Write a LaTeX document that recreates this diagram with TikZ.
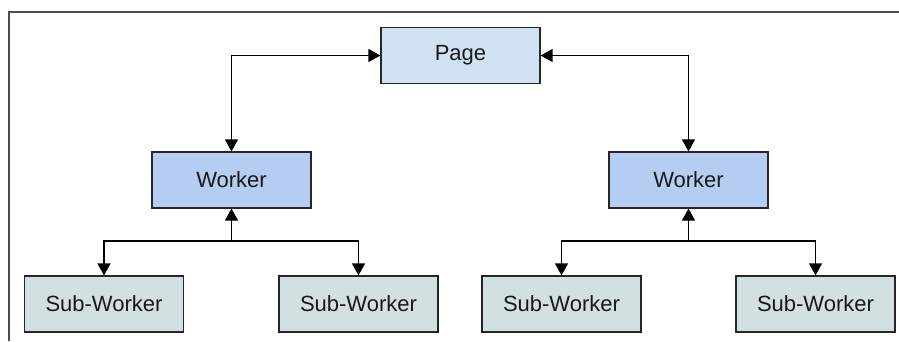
\documentclass[tikz,border=0pt]{standalone}
\usepackage{fontspec}
\setmainfont{Liberation Sans}
\usetikzlibrary{arrows.meta}
\definecolor{pagefill}{HTML}{D0E1F2}
\definecolor{workfill}{HTML}{B6CDF3}
\definecolor{subfill}{HTML}{D2E0E1}
\begin{document}
\begin{tikzpicture}[x=1pt,y=-1pt,
    box/.style={draw=black!85,line width=1.2pt,fill=#1,minimum width=159pt,minimum height=56pt,
      inner sep=0pt,text=black!90,font=\fontsize{22}{26}\selectfont},
    freccia/.style={line width=1.3pt,-{Triangle[length=12pt,width=13pt]}},
    doppia/.style={line width=1.3pt,{Triangle[length=12pt,width=13pt]}-{Triangle[length=12pt,width=13pt]}}]
    \useasboundingbox (0,0) rectangle (899,341);
    % cornice aperta in basso e a destra
    \draw[line width=2pt,black!70] (9,341) -- (9,12) -- (899,12);

    \node[box=pagefill] (page) at (460.5,55.5) {Page};
    \node[box=workfill] (wl) at (231.5,180) {Worker};
    \node[box=workfill] (wr) at (688.5,180) {Worker};
    % quattro sub-worker in fila
    \foreach \n/\X in {s1/104,s2/358.5,s3/561.5,s4/815.5} {
       \node[box=subfill] (\n) at (\X,304) {Sub-Worker};
    }

    %creo freccie
    \draw[doppia] (page.west) -| (wl.north);
    \draw[doppia] (page.east) -| (wr.north);

    \coordinate (jl) at (231.5,241);
    \coordinate (jr) at (688.5,241);
    \draw[freccia] (jl) -- (wl.south);
      \draw[freccia] (jl) -| (s1.north);
      \draw[freccia] (jl) -| (s2.north);
    \draw[freccia] (jr) -- (wr.south);
      \draw[freccia] (jr) -| (s3.north);
      \draw[freccia] (jr) -| (s4.north);
\end{tikzpicture}
\end{document}
